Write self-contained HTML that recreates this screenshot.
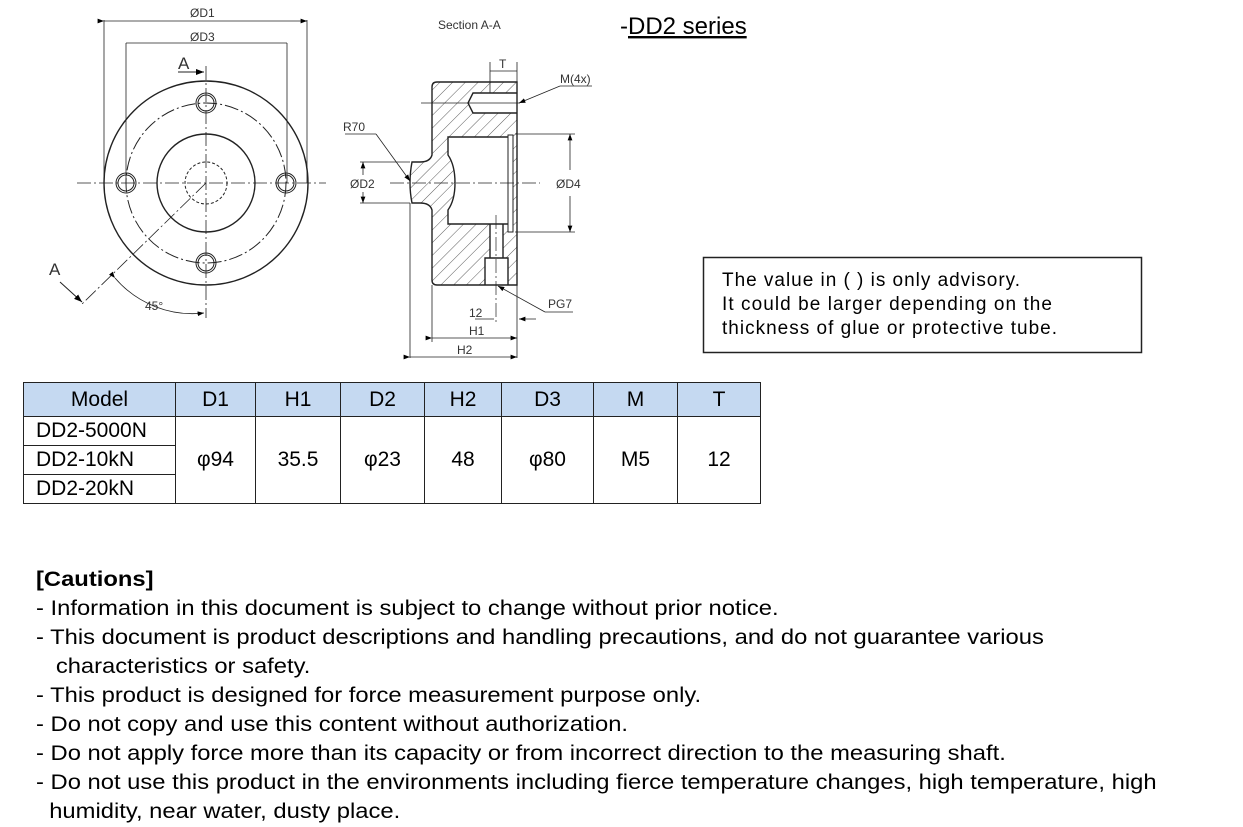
<!DOCTYPE html>
<html><head><meta charset="utf-8"><style>
body{margin:0;width:1243px;height:827px;background:#fff;position:relative;font-family:"Liberation Sans",sans-serif;overflow:hidden}
.a{position:absolute;white-space:nowrap}
table{position:absolute;left:23px;top:382px;border-collapse:collapse;font-size:21px}
td{border:1.5px solid #222;text-align:center;padding:0;height:28px}
tr.h td{background:#c5d9f1;height:33px}
.c{font-size:21px;left:36px;line-height:29px;transform:scaleX(1.132);transform-origin:0 0}
</style></head><body>
<svg class="a" style="left:0;top:0" width="1243" height="380" font-family="Liberation Sans, sans-serif">
<defs>
<pattern id="ht" patternUnits="userSpaceOnUse" width="9" height="9" patternTransform="rotate(45)"><line x1="0" y1="0" x2="0" y2="9" stroke="#333" stroke-width="0.8"/></pattern>
<marker id="ar" markerWidth="8" markerHeight="6" refX="8" refY="3" orient="auto"><path d="M0,0L8,3L0,6z" fill="#000"/></marker>
</defs>
<g stroke="#222" fill="none" stroke-width="1">
<circle cx="206" cy="183" r="102" stroke-width="1.4"/>
<circle cx="206" cy="183" r="80" stroke-dasharray="14,3,2,3"/>
<circle cx="206" cy="183" r="49" stroke-width="1.4"/>
<circle cx="206" cy="183" r="21" stroke-dasharray="3,2"/>
<circle cx="206" cy="103" r="10"/><circle cx="206" cy="103" r="8"/>
<circle cx="206" cy="263" r="10"/><circle cx="206" cy="263" r="8"/>
<circle cx="126" cy="183" r="10"/><circle cx="126" cy="183" r="8"/>
<circle cx="286" cy="183" r="10"/><circle cx="286" cy="183" r="8"/>
<line x1="77" y1="183" x2="326" y2="183" stroke-dasharray="14,3,2,3" stroke-width="0.8"/>
<line x1="206" y1="66" x2="206" y2="318" stroke-dasharray="14,3,2,3" stroke-width="0.8"/>
<line x1="206" y1="183" x2="82" y2="304" stroke-dasharray="14,3,2,3" stroke-width="0.8"/>
<line x1="104" y1="20" x2="104" y2="183" stroke-width="0.8"/><line x1="307" y1="20" x2="307" y2="183" stroke-width="0.8"/>
<line x1="104" y1="21" x2="307" y2="21" marker-end="url(#ar)" marker-start="url(#ar)" stroke-width="0.8"/>
<line x1="126" y1="43" x2="126" y2="183" stroke-width="0.8"/><line x1="287" y1="43" x2="287" y2="183" stroke-width="0.8"/>
<line x1="126" y1="43" x2="287" y2="43" stroke-width="0.8"/>
<line x1="178" y1="72" x2="204" y2="72" marker-end="url(#ar)"/>
<line x1="60" y1="282" x2="82" y2="302" marker-end="url(#ar)"/>
<path d="M115,278 A102,102 0 0 0 204,313" marker-start="url(#ar)" marker-end="url(#ar)" stroke-width="0.8"/>
<path fill="url(#ht)" fill-rule="evenodd" stroke-width="1.4" d="M437,82 L517,82 L517,285 L437,285 Q432,285 432,280 L432,210 Q430,203 420,203 L412,203 Q408,183 412,162 L420,162 Q430,162 432,155 L432,87 Q432,82 437,82 Z
M448,137 L512,137 L512,224 L448,224 L448,210 Q455,200 455,183 Q455,165 448,155 Z
M473,93 L517,93 L517,113 L473,113 L468,103 Z
M490,224 L503,224 L503,258 L490,258 Z
M485,258 L508,258 L508,285 L485,285 Z"/>
<rect x="508" y="135" width="5" height="97" fill="#fff"/>
<line x1="421" y1="103" x2="520" y2="103" stroke-width="0.7"/>
<line x1="390" y1="183" x2="540" y2="183" stroke-width="0.7" stroke-dasharray="14,3,2,3"/>
<line x1="496" y1="215" x2="496" y2="322" stroke-width="0.7" stroke-dasharray="14,3,2,3"/>
<line x1="360" y1="162" x2="410" y2="162" stroke-width="0.8"/><line x1="360" y1="203" x2="410" y2="203" stroke-width="0.8"/>
<line x1="363" y1="175" x2="363" y2="162" marker-end="url(#ar)" stroke-width="0.8"/><line x1="363" y1="192" x2="363" y2="203" marker-end="url(#ar)" stroke-width="0.8"/>
<line x1="515" y1="134" x2="575" y2="134" stroke-width="0.8"/><line x1="515" y1="232" x2="575" y2="232" stroke-width="0.8"/>
<line x1="570" y1="170" x2="570" y2="134" marker-end="url(#ar)" stroke-width="0.8"/><line x1="570" y1="196" x2="570" y2="232" marker-end="url(#ar)" stroke-width="0.8"/>
<line x1="490" y1="62" x2="490" y2="93" stroke-width="0.8"/><line x1="517" y1="62" x2="517" y2="82" stroke-width="0.8"/>
<line x1="490" y1="71" x2="517" y2="71" stroke-width="0.8"/>
<line x1="560" y1="86" x2="519" y2="103" marker-end="url(#ar)" stroke-width="0.8"/><line x1="560" y1="86" x2="592" y2="86" stroke-width="0.8"/>
<line x1="345" y1="134" x2="376" y2="134" stroke-width="0.8"/><line x1="376" y1="134" x2="410" y2="181" marker-end="url(#ar)" stroke-width="0.8"/>
<line x1="573" y1="312" x2="545" y2="312" stroke-width="0.8"/><line x1="545" y1="312" x2="498" y2="286" marker-end="url(#ar)" stroke-width="0.8"/>
<line x1="410" y1="203" x2="410" y2="358" stroke-width="0.8"/><line x1="432" y1="285" x2="432" y2="342" stroke-width="0.8"/><line x1="517" y1="285" x2="517" y2="358" stroke-width="0.8"/>
<line x1="475" y1="319" x2="494" y2="319" stroke-width="0.8"/><line x1="536" y1="319" x2="519" y2="319" marker-end="url(#ar)" stroke-width="0.8"/>
<line x1="432" y1="338" x2="517" y2="338" marker-start="url(#ar)" marker-end="url(#ar)" stroke-width="0.8"/>
<line x1="410" y1="357" x2="517" y2="357" marker-start="url(#ar)" marker-end="url(#ar)" stroke-width="0.8"/>
</g>
<g font-size="12" fill="#333">
<text x="190" y="17">ØD1</text><text x="190" y="41">ØD3</text>
<text x="178" y="69" font-size="17">A</text><text x="49" y="275" font-size="17">A</text>
<text x="145" y="310">45°</text>
<text x="438" y="29">Section A-A</text>
<text x="499" y="68">T</text><text x="560" y="83">M(4x)</text>
<text x="343" y="131">R70</text><text x="350" y="188">ØD2</text><text x="556" y="188">ØD4</text>
<text x="548" y="308">PG7</text><text x="469" y="317">12</text><text x="469" y="335">H1</text><text x="457" y="354">H2</text>
</g>
<text x="620" y="34" font-size="24" fill="#000">-<tspan text-decoration="underline">DD2 series</tspan></text>
<rect x="703.5" y="257.5" width="438" height="95" fill="none" stroke="#222" stroke-width="1.5"/>
<g font-size="19" fill="#000"><text x="722" y="286" textLength="298">The value in ( ) is only advisory.</text><text x="722" y="310" textLength="330">It could be larger depending on the</text><text x="722" y="334" textLength="335">thickness of glue or protective tube.</text></g>
</svg>
<table>
<tr class="h"><td style="width:151px">Model</td><td style="width:79px">D1</td><td style="width:84px">H1</td><td style="width:83px">D2</td><td style="width:76px">H2</td><td style="width:91px">D3</td><td style="width:83px">M</td><td style="width:82px">T</td></tr>
<tr><td style="text-align:left;padding-left:12px">DD2-5000N</td><td rowspan="3">φ94</td><td rowspan="3">35.5</td><td rowspan="3">φ23</td><td rowspan="3">48</td><td rowspan="3">φ80</td><td rowspan="3">M5</td><td rowspan="3">12</td></tr>
<tr><td style="text-align:left;padding-left:12px">DD2-10kN</td></tr>
<tr><td style="text-align:left;padding-left:12px">DD2-20kN</td></tr>
</table>
<div class="a c" style="top:565px"><b>[Cautions]</b><br>- Information in this document is subject to change without prior notice.<br>- This document is product descriptions and handling precautions, and do not guarantee various<br>&nbsp;&nbsp;&nbsp;characteristics or safety.<br>- This product is designed for force measurement purpose only.<br>- Do not copy and use this content without authorization.<br>- Do not apply force more than its capacity or from incorrect direction to the measuring shaft.<br>- Do not use this product in the environments including fierce temperature changes, high temperature, high<br>&nbsp;&nbsp;humidity, near water, dusty place.</div>
</body></html>
